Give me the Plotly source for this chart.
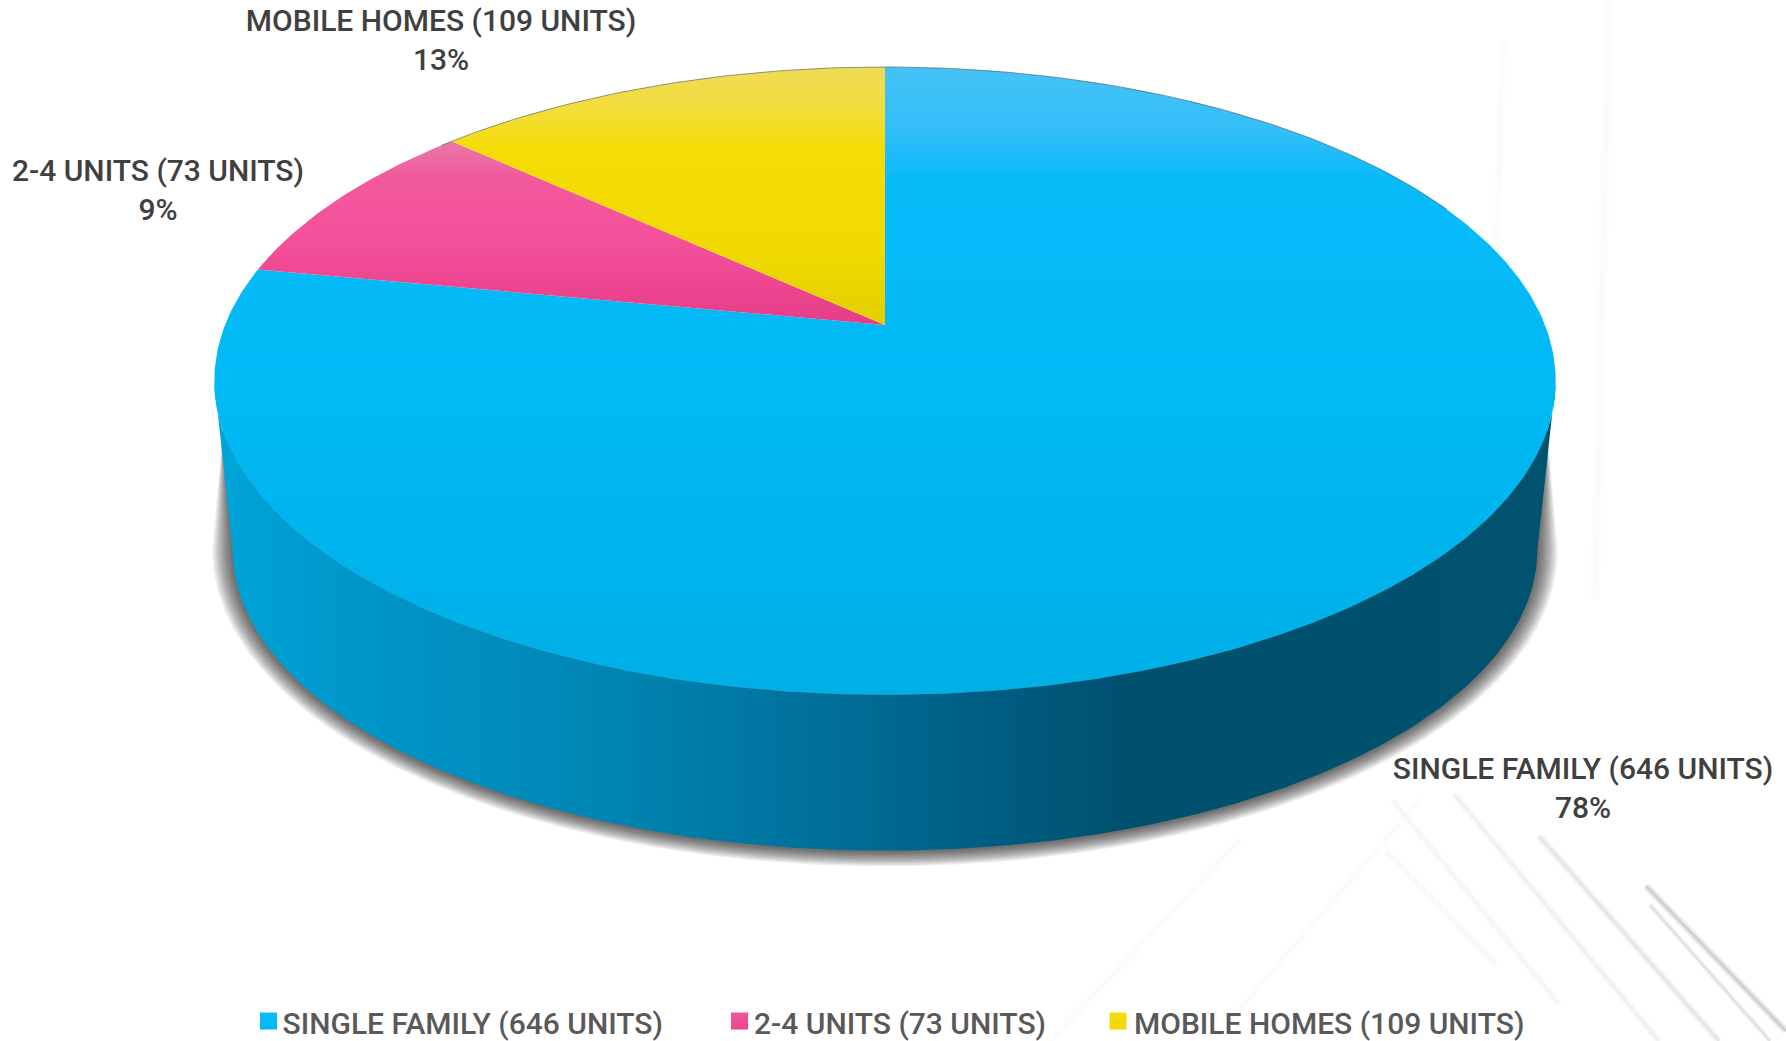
import numpy as np
import plotly.graph_objects as go

# ---- data ----
categories = ["SINGLE FAMILY", "2-4 UNITS", "MOBILE HOMES"]
units = [646, 73, 109]

# ---- styling ----
label_x = [1583, 158, 441]
label_y = [791, 193, 43]
legend_marker_x = [268.5, 739.5, 1118]
legend_text_x = [282.5, 754, 1134]
legend_y = 1026
top_scales = [
    [[0, "#45C2F6"], [0.10, "#33BFF8"], [0.18, "#07BBF9"], [0.53, "#00B9F5"], [1, "#00AFE6"]],
    [[0, "#E878A8"], [0.2, "#F25A9D"], [0.55, "#F4509A"], [1, "#E63C88"]],
    [[0, "#EFDB55"], [0.17, "#F3DE3A"], [0.32, "#F5DC05"], [0.71, "#F0DA00"], [1, "#E3CE00"]],
]
top_spans = [(67, 695), (141, 325), (67, 325)]
wall_scale_x = [222, 350, 500, 620, 700, 830, 1000, 1130, 1553]
wall_scale_c = ["#00A4D8", "#0097C9", "#008DBD", "#0083B0", "#007CA8", "#006F9A", "#005C80", "#00506E", "#00526F"]
legend_colors = ["#0CBCF8", "#F0559C", "#F5DC10"]
legend_grad = ["#00B8F4", "#EC4590", "#F0D800"]
bg_lines = [
    (1646, 886, 1786, 1031, "#B8B8B8", 3), (1650, 905, 1770, 1041, "#CFCFCF", 2),
    (1539, 836, 1719, 1041, "#D8D8D8", 3), (1454, 794, 1659, 1041, "#E8E8E8", 3),
    (1393, 801, 1559, 1004, "#F2F2F2", 3), (1386, 851, 1496, 964, "#F6F6F6", 3),
    (1503, 40, 1495, 300, "#FAFAFA", 3), (1609, 0, 1595, 600, "#FAFAFA", 4),
    (1230, 1020, 1420, 800, "#FAFAFA", 3), (1050, 1041, 1240, 840, "#FBFBFB", 3),
]

# Perspective view of the disc
APEX_X, APEX_Y = 885, 325
K = 0.178
A, C = 660, 304
APEX_Y_B, A_B, C_B = 496, 642, 291.5


def project(u, v, ax, cy, ay):
    d = 1 + K * v
    return APEX_X + ax * u / d, ay - cy * v / d


def top_ring(t):
    return project(np.sin(t), np.cos(t), A, C, APEX_Y)


def base_ring(t):
    return project(np.sin(t), np.cos(t), A_B, C_B, APEX_Y_B)


total = sum(units)
shares = [u / total for u in units]
edges = 2 * np.pi * np.concatenate([[0], np.cumsum(shares)])

fig = go.Figure()

# drop shadow: lower half of the base outline, grown step by step
N_SHADOW = 12
ts = np.linspace(np.pi / 2, 3 * np.pi / 2, 200)
for i in range(N_SHADOW):
    e = 18 * (1 - i / (N_SHADOW - 1))
    sx = 885 + (652 + e * 1.15) * np.sin(ts)
    sy = 550 - (301 + e * 0.85) * np.cos(ts)
    fig.add_trace(go.Scatter(
        x=np.concatenate([sx, [223], [1547], [sx[0]]]),
        y=np.concatenate([sy, [430], [430], [sy[0]]]),
        mode="lines", line=dict(width=0), fill="toself",
        fillcolor="rgba(15,15,15,0.075)", hoverinfo="skip", showlegend=False))

# side wall
t0 = np.arctan2(np.sqrt(1 - K ** 2), -K)
tw = np.linspace(t0, 2 * np.pi - t0, 300)
xt, yt = top_ring(tw)
xb, yb = base_ring(tw)
x0w, x1w = wall_scale_x[0], wall_scale_x[-1]
fig.add_trace(go.Scatter(
    x=np.concatenate([xt, xb[::-1]]), y=np.concatenate([yt, yb[::-1]]),
    mode="lines", line=dict(width=0), fill="toself",
    fillgradient=dict(type="horizontal", start=x0w, stop=x1w,
                      colorscale=[[(x - x0w) / (x1w - x0w), c] for x, c in zip(wall_scale_x, wall_scale_c)]),
    hoverinfo="skip", showlegend=False))

# top-face wedges
for i, cat in enumerate(categories):
    t = np.linspace(edges[i], edges[i + 1], max(8, int(600 * shares[i])))
    xr, yr = top_ring(t)
    fig.add_trace(go.Scatter(
        x=np.concatenate([[APEX_X], xr, [APEX_X]]), y=np.concatenate([[APEX_Y], yr, [APEX_Y]]),
        mode="lines", line=dict(width=0), fill="toself",
        fillgradient=dict(type="vertical", start=top_spans[i][0], stop=top_spans[i][1],
                          colorscale=top_scales[i]),
        name=cat, hovertemplate=f"{cat}: {units[i]}<extra></extra>", showlegend=False))

# thin dark rim along the far edge
tr = np.linspace(-0.85, 1.15, 120)
xr, yr = top_ring(tr)
fig.add_trace(go.Scatter(x=xr, y=yr, mode="lines", line=dict(width=1, color="rgba(60,70,80,0.55)"),
                         hoverinfo="skip", showlegend=False))

# data labels
fig.add_trace(go.Scatter(
    x=label_x, y=label_y, mode="text",
    text=[f"{c} ({u} UNITS)<br>{round(s * 100)}%" for c, u, s in zip(categories, units, shares)],
    textposition="middle center",
    textfont=dict(family="Roboto", size=30, weight=500, color="#404040"),
    hoverinfo="skip", showlegend=False))

# legend row
for i, cat in enumerate(categories):
    fig.add_trace(go.Scatter(
        x=[legend_marker_x[i]], y=[legend_y - 5], mode="markers",
        marker=dict(symbol="square", size=17, color=legend_colors[i], line=dict(width=0),
                    gradient=dict(type="vertical", color=legend_grad[i])),
        hoverinfo="skip", showlegend=False))
    fig.add_trace(go.Scatter(
        x=[legend_text_x[i]], y=[legend_y], mode="text",
        text=[f"{cat} ({units[i]} UNITS)"], textposition="middle right",
        textfont=dict(family="Roboto", size=30, weight=500, color="#595959"),
        hoverinfo="skip", showlegend=False))

shapes = []
for a, b, c, d, col, w in bg_lines:
    shapes.append(dict(type="line", x0=a, y0=b, x1=c, y1=d, layer="below", opacity=0.25,
                       line=dict(color=col, width=w * 2.5)))
    shapes.append(dict(type="line", x0=a, y0=b, x1=c, y1=d, layer="below", opacity=0.5,
                       line=dict(color=col, width=w)))

fig.update_layout(
    width=1786, height=1041, margin=dict(l=0, r=0, t=0, b=0),
    paper_bgcolor="#FFFFFF", plot_bgcolor="rgba(0,0,0,0)", showlegend=False,
    xaxis=dict(range=[0, 1786], visible=False, fixedrange=True),
    yaxis=dict(range=[1041, 0], visible=False, fixedrange=True),
    shapes=shapes,
)

fig.write_html("out.html", config=dict(displayModeBar=False),
               post_script="document.body.style.margin='0';document.documentElement.style.overflow='hidden';")
